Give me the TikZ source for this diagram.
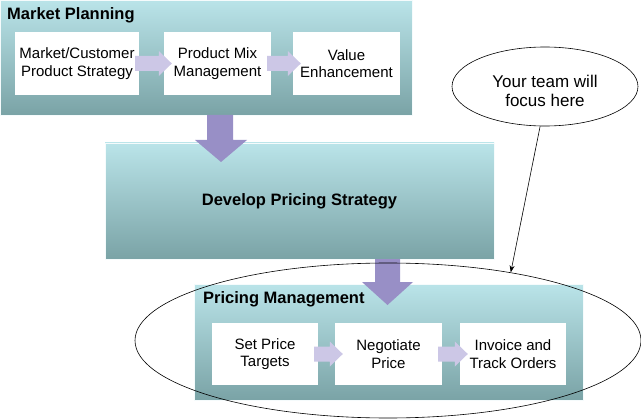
\documentclass[tikz,border=0pt]{standalone}
\usepackage{fontspec}
\setmainfont{Liberation Sans}
\usetikzlibrary{shapes.geometric,arrows.meta,calc}
\definecolor{tealtop}{RGB}{186,228,233}
\definecolor{tealbot}{RGB}{122,163,166}
\definecolor{darkarrow}{RGB}{152,143,198}
\definecolor{lightarrow}{RGB}{204,199,230}
\tikzset{
  stage/.style={draw=white!85!tealtop, line width=0.6pt, top color=tealtop, bottom color=tealbot, minimum width=#1, minimum height=116pt, inner sep=0pt},
  task/.style={fill=white, minimum width=#1, minimum height=63pt, inner sep=0pt, align=center, font=\fontsize{15}{17.5}\selectfont},
  title/.style={anchor=west, inner sep=0pt, font=\fontsize{16.5}{19}\selectfont\bfseries},
  darkblock/.style={fill=darkarrow, draw=none},
  lightblock/.style={fill=lightarrow, draw=none},
  ring/.style={draw=black, line width=0.6pt, ellipse, inner sep=0pt}
}
\begin{document}
\begin{tikzpicture}[x=1pt,y=-1pt]
\useasboundingbox (0,0) rectangle (641,420);
% stages
\node[stage=412pt, minimum height=115pt] (mp) at (206,57.5) {};
\node[title] (mpt) at (7,15.5) {Market Planning};
\node[stage=389pt] (dps) at (299.5,201) {};
\node[font=\fontsize{16.5}{19}\selectfont\bfseries] (dpst) at (299.5,201) {Develop Pricing Strategy};
\node[stage=389pt] (pm) at (388.5,342) {};
\node[title] (pmt) at (203,299) {Pricing Management};
% tasks
\node[task=124pt] (mc) at (77,63.5) {Market/Customer\\Product Strategy};
\node[task=107pt] (pmx) at (217.5,63.5) {Product Mix\\Management};
\node[task=107pt] (ve) at (346.5,63.5) {Value\\Enhancement};
\node[task=106pt, minimum height=62pt] (sp) at (265,354) {Set Price\\Targets};
\node[task=107pt, minimum height=62pt] (np) at (388.5,354) {Negotiate\\Price};
\node[task=106pt, minimum height=62pt] (it) at (513,354) {Invoice and\\Track Orders};
% light block arrows
\foreach \a/\b in {mc/pmx, pmx/ve, sp/np, np/it}{
  \fill[lightblock] ($(\a.east)+(-4,-7.5)$) -- ($(\b.west)+(-5,-7.5)$) -- ($(\b.west)+(-5,-12.5)$)
    -- ($(\b.west)+(8,0)$) -- ($(\b.west)+(-5,12.5)$) -- ($(\b.west)+(-5,7.5)$) -- ($(\a.east)+(-4,7.5)$) -- cycle;
}
% dark block arrows
\fill[darkblock] (207,115) -- (233,115) -- (233,140) -- (247,140) -- (221,162) -- (195,140) -- (207,140) -- cycle;
\fill[darkblock] (375,259) -- (400,259) -- (400,282) -- (413,282) -- (387.5,305) -- (362,282) -- (375,282) -- cycle;
% ellipses
\node[ring, minimum width=506pt, minimum height=155pt] (big) at (388,340.5) {};
\node[ring, fill=white, minimum width=186pt, minimum height=79pt] (focus) at (545,86.5) {};
\node[align=center, inner sep=0pt, font=\fontsize{17}{18.5}\selectfont] (focustxt) at (545,91) {Your team will\\focus here};
\draw[line width=0.6pt, -{Stealth[length=7pt,width=5pt]}] (focus.263) -- (big.29.4);
\end{tikzpicture}
\end{document}
